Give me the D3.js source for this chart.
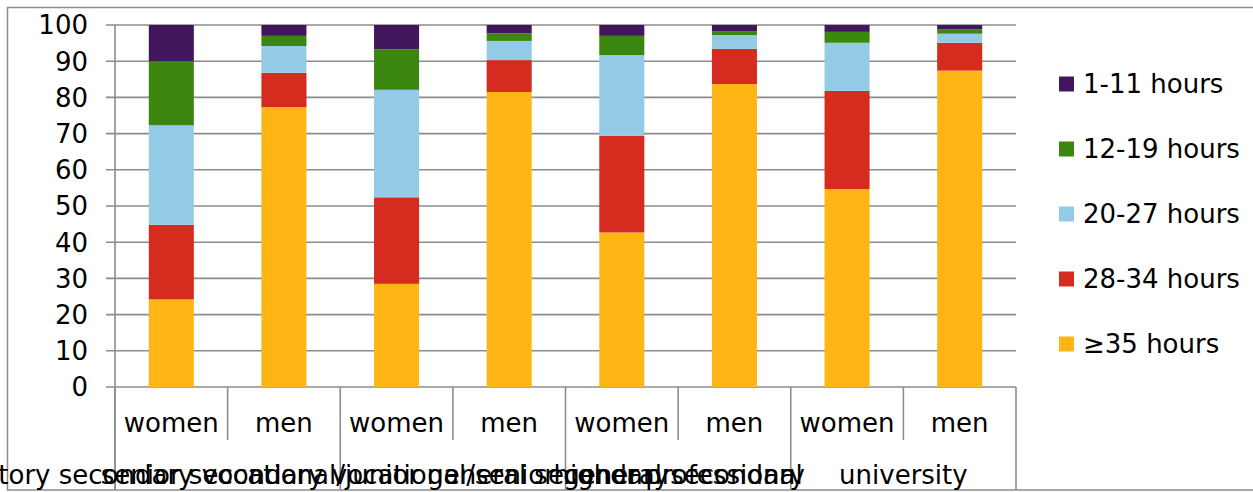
<!DOCTYPE html>
<html>
<head>
<meta charset="utf-8">
<script src="https://cdnjs.cloudflare.com/ajax/libs/d3/7.8.5/d3.min.js"></script>
<style>
  html, body { margin: 0; padding: 0; background: #fff; }
  svg { display: block; font-family: "DejaVu Sans", Verdana, sans-serif; }
</style>
</head>
<body>
<svg id="chart" width="1253" height="492"></svg>
<script>
// ---- data ----
const groups = [
  "primary/preparatory secondary vocational/junior general secondary",
  "senior secondary vocational/senior general secondary",
  "higher professional",
  "university"
];
const sexes = ["women", "men"];
const seriesNames = ["≥35 hours", "28-34 hours", "20-27 hours", "12-19 hours", "1-11 hours"];
const seriesColors = ["#feb515", "#d62b1f", "#93cae6", "#3b860f", "#42165d"];
// values per bar (women/men for each group), in seriesNames order
const h35   = [24.2, 77.3, 28.5, 81.5, 42.7, 83.7, 54.7, 87.4];
const h28   = [20.6,  9.5, 23.9,  8.8, 26.7,  9.7, 27.1,  7.7];
const h20   = [27.5,  7.4, 29.7,  5.3, 22.3,  3.8, 13.3,  2.5];
const h12   = [17.7,  2.8, 11.2,  2.1,  5.3,  1.1,  3.0,  1.2];
const h1    = [10.0,  3.0,  6.7,  2.3,  3.0,  1.7,  1.9,  1.2];
const yTicks = [0, 10, 20, 30, 40, 50, 60, 70, 80, 90, 100];

(function () {
const seriesValues = [h35, h28, h20, h12, h1];
const bars = [];
groups.forEach((g, gi) => sexes.forEach((s, si) => bars.push({ id: gi * 2 + si, group: g, sex: s })));
const table = bars.map((b, i) => {
  const row = { id: b.id };
  seriesNames.forEach((n, k) => row[n] = seriesValues[k][i]);
  return row;
});

// ---- layout ----
const svg = d3.select("#chart");
const pLeft = 115, pRight = 1016, pTop = 25, pBottom = 387;
const tableBottom = 490;
const fs = 26;
const x = d3.scaleBand().domain(bars.map(b => b.id)).range([pLeft, pRight]).paddingInner(0.6).paddingOuter(0.3);
const y = d3.scaleLinear().domain([0, 100]).range([pBottom, pTop]);
const gridColor = "#8c8c8c";

// outer border
svg.append("rect").attr("x", 7.5).attr("y", 7.5).attr("width", 1300).attr("height", tableBottom - 7.5)
  .attr("fill", "none").attr("stroke", gridColor).attr("stroke-width", 1.5);

// gridlines + y labels
const yg = svg.append("g");
yg.selectAll("line").data(yTicks).join("line")
  .attr("x1", pLeft - 9).attr("x2", pRight)
  .attr("y1", d => y(d)).attr("y2", d => y(d))
  .attr("stroke", gridColor).attr("stroke-width", 1.6);
yg.selectAll("text").data(yTicks).join("text")
  .attr("x", 88).attr("y", d => y(d)).attr("dy", "0.36em")
  .attr("text-anchor", "end").attr("font-size", fs).attr("fill", "#000")
  .text(d => d);

// stacked bars
const stack = d3.stack().keys(seriesNames)(table);
const color = d3.scaleOrdinal().domain(seriesNames).range(seriesColors);
svg.append("g").selectAll("g").data(stack).join("g")
  .attr("fill", d => color(d.key))
  .selectAll("rect").data(d => d).join("rect")
  .attr("x", d => x(d.data.id))
  .attr("width", x.bandwidth())
  .attr("y", d => y(d[1]))
  .attr("height", d => y(d[0]) - y(d[1]));

// y axis line
svg.append("line").attr("x1", pLeft).attr("x2", pLeft).attr("y1", pTop).attr("y2", tableBottom)
  .attr("stroke", gridColor).attr("stroke-width", 1.6);

// category table lines
const step = x.step();
const groupEdges = d3.range(groups.length + 1).map(i => pLeft + i * 2 * step);
svg.append("g").selectAll("line").data(groupEdges).join("line")
  .attr("x1", d => d).attr("x2", d => d).attr("y1", pBottom).attr("y2", tableBottom)
  .attr("stroke", gridColor).attr("stroke-width", 1.6);
const innerEdges = d3.range(groups.length).map(i => pLeft + (i * 2 + 1) * step);
svg.append("g").selectAll("line").data(innerEdges).join("line")
  .attr("x1", d => d).attr("x2", d => d).attr("y1", pBottom).attr("y2", 440)
  .attr("stroke", gridColor).attr("stroke-width", 1.6);

// sex labels
svg.append("g").selectAll("text").data(bars).join("text")
  .attr("x", d => x(d.id) + x.bandwidth() / 2).attr("y", 432)
  .attr("text-anchor", "middle").attr("font-size", fs).attr("fill", "#000")
  .text(d => d.sex);

// group labels
svg.append("g").selectAll("text").data(groups).join("text")
  .attr("x", (d, i) => pLeft + (i * 2 + 1) * step).attr("y", 484)
  .attr("text-anchor", "middle").attr("font-size", fs).attr("fill", "#000")
  .text(d => d);

// legend (top to bottom: reverse of stacking)
const legendItems = seriesNames.slice().reverse();
const lg = svg.append("g").selectAll("g").data(legendItems).join("g")
  .attr("transform", (d, i) => `translate(1059, ${84 + i * 65})`);
lg.append("rect").attr("x", 0).attr("y", -7.5).attr("width", 15).attr("height", 15)
  .attr("fill", d => color(d));
lg.append("text").attr("x", 24).attr("y", 0).attr("dy", "0.36em")
  .attr("font-size", fs).attr("fill", "#000").text(d => d);
})();
</script>
</body>
</html>
